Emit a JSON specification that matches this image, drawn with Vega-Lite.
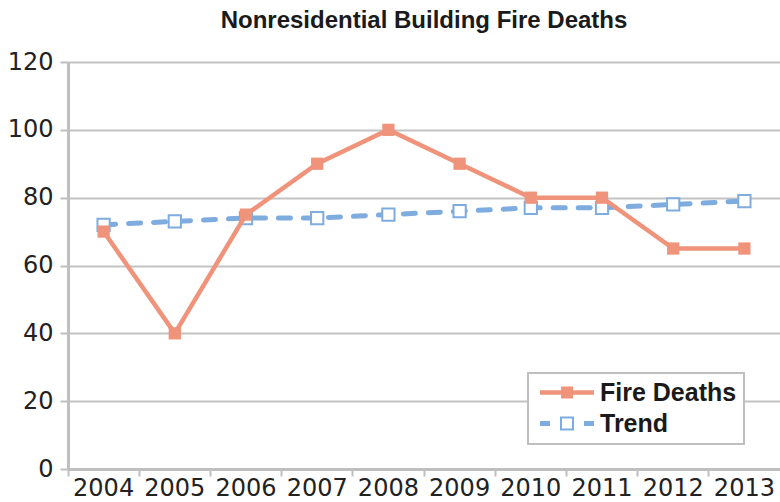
{
  "$schema": "https://vega.github.io/schema/vega-lite/v6.json",
  "width": 712,
  "height": 407,
  "autosize": {"type": "none"},
  "padding": {"left": 68, "top": 62, "right": 0, "bottom": 33},
  "background": "white",
  "title": {
    "text": "Nonresidential Building Fire Deaths",
    "font": "Liberation Sans",
    "fontSize": 24,
    "fontWeight": "bold",
    "color": "#1a1a1a",
    "anchor": "middle",
    "offset": 17
  },
  "config": {
    "view": {"stroke": null},
    "font": "DejaVu Sans",
    "axis": {
      "labelFont": "DejaVu Sans",
      "labelFontSize": 24,
      "labelColor": "#222222",
      "domainColor": "#bfbfbf",
      "domainWidth": 3,
      "tickColor": "#bfbfbf",
      "tickWidth": 2,
      "gridColor": "#c3c3c3",
      "gridWidth": 2,
      "title": null
    }
  },
  "data": {
    "values": [
      {"year": "2004", "series": "Fire Deaths", "value": 70},
      {"year": "2005", "series": "Fire Deaths", "value": 40},
      {"year": "2006", "series": "Fire Deaths", "value": 75},
      {"year": "2007", "series": "Fire Deaths", "value": 90},
      {"year": "2008", "series": "Fire Deaths", "value": 100},
      {"year": "2009", "series": "Fire Deaths", "value": 90},
      {"year": "2010", "series": "Fire Deaths", "value": 80},
      {"year": "2011", "series": "Fire Deaths", "value": 80},
      {"year": "2012", "series": "Fire Deaths", "value": 65},
      {"year": "2013", "series": "Fire Deaths", "value": 65},
      {"year": "2004", "series": "Trend", "value": 72},
      {"year": "2005", "series": "Trend", "value": 73},
      {"year": "2006", "series": "Trend", "value": 74},
      {"year": "2007", "series": "Trend", "value": 74},
      {"year": "2008", "series": "Trend", "value": 75},
      {"year": "2009", "series": "Trend", "value": 76},
      {"year": "2010", "series": "Trend", "value": 77},
      {"year": "2011", "series": "Trend", "value": 77},
      {"year": "2012", "series": "Trend", "value": 78},
      {"year": "2013", "series": "Trend", "value": 79}
    ]
  },
  "encoding": {
    "x": {
      "field": "year",
      "type": "ordinal",
      "scale": {"type": "band", "paddingInner": 0, "paddingOuter": 0},
      "axis": {
        "labelAngle": 0,
        "bandPosition": 0,
        "tickSize": 7,
        "labelPadding": 0,
        "grid": false,
        "labelBaseline": "top"
      }
    },
    "y": {
      "field": "value",
      "type": "quantitative",
      "scale": {"domain": [0, 120], "nice": false},
      "axis": {
        "values": [0, 20, 40, 60, 80, 100, 120],
        "tickSize": 8,
        "labelPadding": 7,
        "grid": true
      }
    },
    "color": {
      "field": "series",
      "type": "nominal",
      "scale": {"domain": ["Fire Deaths", "Trend"], "range": ["#F0937B", "#7EACDE"]},
      "legend": {
        "title": null,
        "orient": "none",
        "legendX": 460,
        "legendY": 311,
        "direction": "vertical",
        "labelFont": "Liberation Sans",
        "labelFontSize": 25,
        "labelFontWeight": "bold",
        "labelColor": "#1a1a1a",
        "labelOffset": 40,
        "symbolSize": 400,
        "rowPadding": 5,
        "padding": 7,
        "strokeColor": "#bfbfbf",
        "fillColor": "white",
        "encode": {
          "symbols": {
            "update": {
              "x": {"value": 32},
              "shape": {"signal": "datum.value === 'Fire Deaths' ? 'M-2.7,-0.22 H-0.6 V-0.6 H0.6 V-0.22 H2.7 V0.22 H0.6 V0.6 H-0.6 V0.22 H-2.7 Z' : 'M-2.7,-0.25 H-1.7 V0.25 H-2.7 Z M1.7,-0.25 H2.7 V0.25 H1.7 Z M-0.7,-0.7 H0.7 V0.7 H-0.7 Z M-0.5,-0.5 V0.5 H0.5 V-0.5 Z'"},
              "fill": {"signal": "datum.value === 'Fire Deaths' ? '#F0937B' : '#7EACDE'"},
              "stroke": {"value": "transparent"},
              "strokeWidth": {"value": 0},
              "opacity": {"value": 1},
              "fillOpacity": {"value": 1},
              "size": {"value": 400}
            }
          },
          "legend": {"update": {"strokeWidth": {"value": 2}}}
        }
      }
    }
  },
  "layer": [
    {
      "transform": [{"filter": "datum.series === 'Trend'"}],
      "mark": {"type": "line", "strokeWidth": 5, "strokeDash": [12, 13], "strokeCap": "round"}
    },
    {
      "transform": [{"filter": "datum.series === 'Trend'"}],
      "mark": {"type": "point", "shape": "square", "size": 150, "filled": true, "fill": "white", "stroke": "#7EACDE", "strokeWidth": 2, "opacity": 1}
    },
    {
      "transform": [{"filter": "datum.series === 'Fire Deaths'"}],
      "mark": {"type": "line", "strokeWidth": 4.5}
    },
    {
      "transform": [{"filter": "datum.series === 'Fire Deaths'"}],
      "mark": {"type": "point", "shape": "square", "size": 150, "filled": true, "opacity": 1}
    }
  ]
}
